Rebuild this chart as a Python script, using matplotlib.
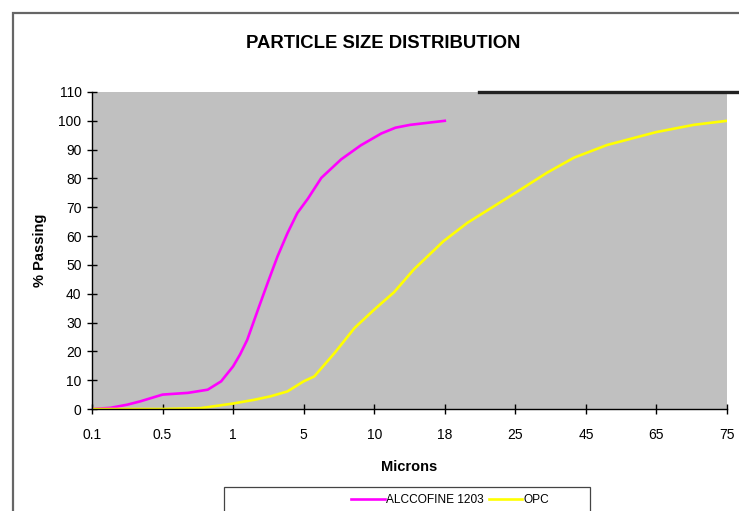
import matplotlib
matplotlib.use("Agg")
import matplotlib.pyplot as plt
from matplotlib.patches import Rectangle
from matplotlib.lines import Line2D

plt.rcParams['font.family'] = ['Liberation Sans', 'DejaVu Sans']

# category axis (equally spaced sizes, microns)
sizes = ['0.1', '0.5', '1', '5', '10', '18', '25', '45', '65', '75']

# readings along the category axis (position in category units, % passing)
alc_pos = [0, 0.26, 0.5, 0.69, 1.0, 1.36, 1.64, 1.83, 2.0, 2.1, 2.2, 2.37, 2.49,
           2.63, 2.77, 2.91, 3.06, 3.25, 3.53, 3.81, 4.1, 4.3, 4.51, 5.0]
alc_val = [0, 0.4, 1.5, 2.7, 5.0, 5.6, 6.7, 9.6, 14.8, 19, 24, 35.7, 43.8,
           53, 61, 68, 73, 80.2, 86.6, 91.5, 95.6, 97.6, 98.6, 100]

opc_pos = [0, 1.0, 1.54, 2.0, 2.3, 2.53, 2.77, 3.0, 3.15, 3.44, 3.72, 4.0,
           4.28, 4.56, 4.98, 5.32, 6.0, 6.45, 6.83, 7.3, 8.0, 8.53, 9.0]
opc_val = [0, 0, 0.3, 1.9, 3.2, 4.4, 6.1, 9.6, 11.3, 19.5, 28.1, 34.5,
           40.5, 48.4, 58.2, 64.6, 75, 82, 87.2, 91.6, 96.1, 98.6, 100]

fig = plt.figure(figsize=(7.39, 5.11), dpi=100)
ax = fig.add_axes([0.1245, 0.1996, 0.8593, 0.6204])
ax.set_facecolor('#c0c0c0')

l1, = ax.plot(alc_pos, alc_val, color='#ff00ff', lw=1.9, label='ALCCOFINE 1203')
l2, = ax.plot(opc_pos, opc_val, color='#ffff00', lw=1.9, label='OPC')

ax.set_xlim(0, 9)
ax.set_ylim(0, 110)
ax.set_xticks(range(len(sizes)))
ax.set_xticklabels(sizes)
ax.set_yticks(range(0, 111, 10))
for s in ['top', 'right']:
    ax.spines[s].set_visible(False)
for s in ['left', 'bottom']:
    ax.spines[s].set_color('black')
    ax.spines[s].set_linewidth(1.0)
ax.tick_params(direction='inout', length=7, width=1, labelsize=10, pad=4)
ax.tick_params(axis='x', pad=10)

ax.set_xlabel('Microns', fontweight='bold', fontsize=10.5, labelpad=13)
ax.set_ylabel('% Passing', fontweight='bold', fontsize=10.5, labelpad=8)
fig.text(0.518, 0.915, 'PARTICLE SIZE DISTRIBUTION', ha='center', va='center',
         fontweight='bold', fontsize=13.3)

# chart frame and stray border line
fig.add_artist(Rectangle((0.0176, -0.2), 1.2, 0.2 + 0.9746, transform=fig.transFigure,
                         fill=False, ec='#666666', lw=1.6))
fig.add_artist(Line2D([0.648, 1.0], [0.82, 0.82], transform=fig.transFigure,
                      color='#222222', lw=2.4))

# legend box, clipped at the bottom
fig.add_artist(Rectangle((0.303, -0.06), 0.495, 0.107, transform=fig.transFigure,
                         fill=True, fc='white', ec='#444444', lw=0.9))
fig.legend(handles=[l1, l2], loc='center right', bbox_to_anchor=(0.751, 0.021),
           ncol=2, frameon=False, fontsize=8.6, handlelength=2.8, handletextpad=0.1,
           columnspacing=0.4, borderpad=0)

fig.savefig('out.png', dpi=100)
